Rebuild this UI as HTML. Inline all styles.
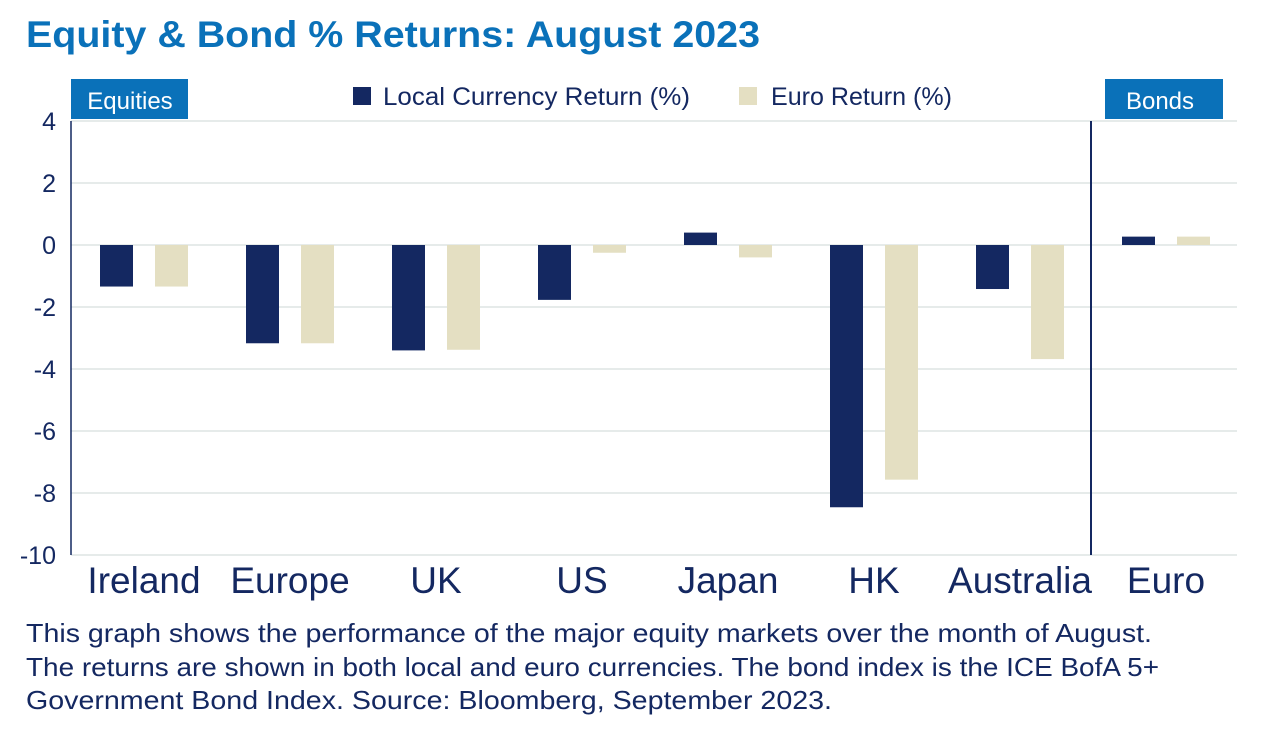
<!DOCTYPE html>
<html><head><meta charset="utf-8"><style>
html,body{margin:0;padding:0;background:#fff;}
body{width:1263px;height:740px;overflow:hidden;font-family:"Liberation Sans",sans-serif;}
</style></head><body>
<svg width="1263" height="740" xmlns="http://www.w3.org/2000/svg" style="font-family:'Liberation Sans',sans-serif">
<text x="26" y="47" font-size="37" font-weight="bold" fill="#0a71b9" textLength="734" lengthAdjust="spacingAndGlyphs">Equity &amp; Bond % Returns: August 2023</text>
<g id="grid"></g>
<g id="bars"></g>
<g id="labels"></g>
<rect x="71" y="79" width="117" height="40" fill="#0a71b9"/>
<text x="130" y="109" font-size="24" fill="#fff" text-anchor="middle">Equities</text>
<rect x="1105" y="79" width="118" height="40" fill="#0a71b9"/>
<text x="1160" y="109" font-size="24" fill="#fff" text-anchor="middle">Bonds</text>
<g>
<rect x="353" y="87" width="18" height="18" fill="#142861"/>
<text x="383" y="105" font-size="25" fill="#142861" textLength="307" lengthAdjust="spacingAndGlyphs">Local Currency Return (%)</text>
<rect x="739" y="87" width="18" height="18" fill="#e4dfc2"/>
<text x="771" y="105" font-size="25" fill="#142861" textLength="181" lengthAdjust="spacingAndGlyphs">Euro Return (%)</text>
</g>
<g font-size="26" fill="#142861">
<text x="26" y="642" textLength="1126" lengthAdjust="spacingAndGlyphs">This graph shows the performance of the major equity markets over the month of August.</text>
<text x="26" y="676" textLength="1133" lengthAdjust="spacingAndGlyphs">The returns are shown in both local and euro currencies. The bond index is the ICE BofA 5+</text>
<text x="26" y="709" textLength="806" lengthAdjust="spacingAndGlyphs">Government Bond Index. Source: Bloomberg, September 2023.</text>
</g>
</svg>
<script>
const categories=["Ireland","Europe","UK","US","Japan","HK","Australia","Euro"];
const localReturns=[-1.34,-3.17,-3.4,-1.77,0.4,-8.46,-1.42,0.27];
const euroReturns=[-1.34,-3.17,-3.38,-0.25,-0.4,-7.57,-3.68,0.27];
const yTicks=[4,2,0,-2,-4,-6,-8,-10];
const NS="http://www.w3.org/2000/svg";
const plotX0=71,band=146,yMin=-10,yMax=4,plotTop=121,plotBottom=555;
function yScale(v){return plotBottom-(v-yMin)/(yMax-yMin)*(plotBottom-plotTop);}
function mk(tag,attrs,parent){const e=document.createElementNS(NS,tag);for(const k in attrs)e.setAttribute(k,attrs[k]);parent.appendChild(e);return e;}
const grid=document.getElementById('grid');
yTicks.forEach(t=>{
 const l=mk('line',{x1:plotX0,x2:1237,y1:yScale(t),y2:yScale(t),stroke:'#e6ebea','stroke-width':2},grid);
 
 
 const tx=mk('text',{x:56,y:yScale(t)+9,'font-size':25,fill:'#142861','text-anchor':'end'},grid);
 tx.textContent=t;
 
 
});
const ax=mk('line',{x1:plotX0,x2:plotX0,y1:plotTop,y2:plotBottom,stroke:'#142861','stroke-width':1.5},grid);


const dv=mk('line',{x1:plotX0+7*band-2,x2:plotX0+7*band-2,y1:plotTop,y2:plotBottom,stroke:'#142861','stroke-width':2},grid);


const bars=document.getElementById('bars'),labels=document.getElementById('labels');
const bw=33;
categories.forEach((c,i)=>{
 const cx=plotX0+band*i+band/2;
 [[localReturns[i],'#142861',cx-44,'bar-local'],[euroReturns[i],'#e4dfc2',cx+11,'bar-euro']].forEach(([v,col,bx,nm])=>{
  const r=mk('rect',{x:bx,y:Math.min(yScale(v),yScale(0)),width:bw,height:Math.abs(yScale(v)-yScale(0)),fill:col},bars);
  
  
 });
 const t=mk('text',{x:cx,y:593,'font-size':37,fill:'#142861','text-anchor':'middle'},labels);
 t.textContent=c;
 
 
});
</script>
</body></html>
